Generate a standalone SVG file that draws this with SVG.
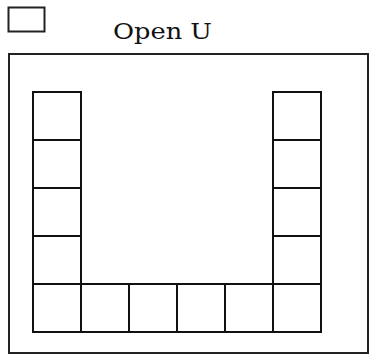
<svg xmlns="http://www.w3.org/2000/svg" width="369" height="354" viewBox="0 0 369 354">
<style>
.b{fill:#fff;stroke:#222;stroke-width:2}
.c{fill:#fff;stroke:#111;stroke-width:2}
.t{font-family:"DejaVu Serif","Liberation Serif",serif;font-size:23px;fill:#111}
</style>
<rect width="369" height="354" fill="#fff"/>
<g id="legend"><rect class="b" x="8.5" y="7.5" width="36" height="24"/></g>
<g id="title"><text class="t" x="113" y="38.5" textLength="99" lengthAdjust="spacingAndGlyphs">Open U</text></g>
<g id="frame"><rect class="b" x="9" y="54" width="359" height="299"/></g>
<g id="connectors"></g>
<g id="left-column">
<rect class="c" x="33" y="92" width="48" height="48"/>
<rect class="c" x="33" y="140" width="48" height="48"/>
<rect class="c" x="33" y="188" width="48" height="48"/>
<rect class="c" x="33" y="236" width="48" height="48"/>
</g>
<g id="right-column">
<rect class="c" x="273" y="92" width="48" height="48"/>
<rect class="c" x="273" y="140" width="48" height="48"/>
<rect class="c" x="273" y="188" width="48" height="48"/>
<rect class="c" x="273" y="236" width="48" height="48"/>
</g>
<g id="bottom-row">
<rect class="c" x="33" y="284" width="48" height="48"/>
<rect class="c" x="81" y="284" width="48" height="48"/>
<rect class="c" x="129" y="284" width="48" height="48"/>
<rect class="c" x="177" y="284" width="48" height="48"/>
<rect class="c" x="225" y="284" width="48" height="48"/>
<rect class="c" x="273" y="284" width="48" height="48"/>
</g>
</svg>
